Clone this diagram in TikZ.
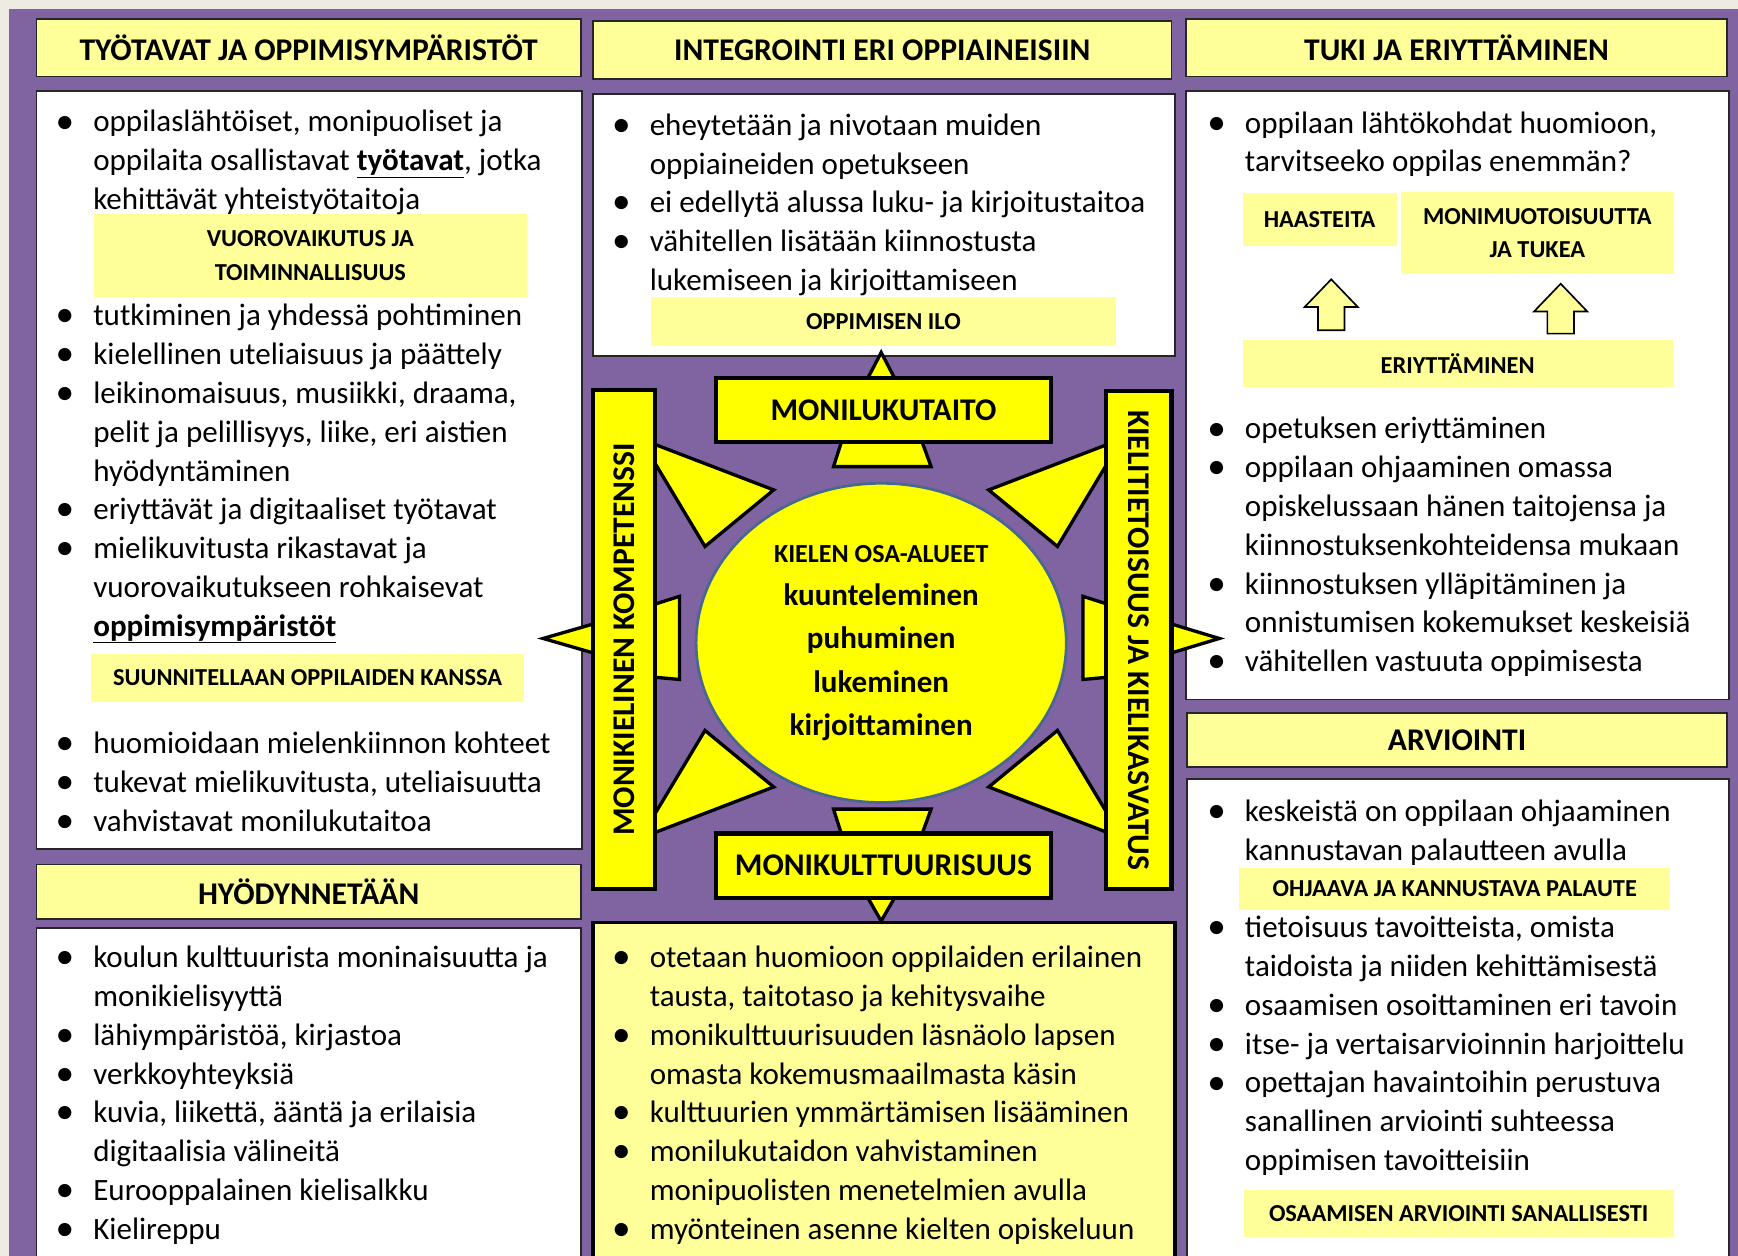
\documentclass[tikz,border=0pt]{standalone}
\usepackage{fontspec}
\setmainfont{Carlito}
\usetikzlibrary{shapes.geometric}
\definecolor{purp}{RGB}{128,100,162}
\definecolor{paleyel}{RGB}{255,255,153}
\definecolor{brightyel}{RGB}{255,255,0}
\definecolor{rimblue}{RGB}{72,104,146}
\definecolor{beige}{RGB}{238,235,226}
\newcommand{\bodyfont}{\fontsize{28}{35}\selectfont}
\newcommand{\tagfont}{\fontsize{22}{30}\selectfont\bfseries}
\newcommand{\bl}{\makebox[34pt][l]{\raisebox{-1pt}{\scalebox{1.2}{\textbullet}}}}
\newcommand{\cl}{\hspace*{34pt}}
\newcommand{\bullist}[1]{\begin{tabular}[t]{@{}l@{}}#1\end{tabular}}
\tikzset{
  headbox/.style={draw=black!85, line width=1.5pt, fill=paleyel, font=\fontsize{28.5}{30}\selectfont\bfseries},
  listbox/.style={draw=black!85, line width=1.5pt, fill=white},
  tagbox/.style={fill=paleyel, align=center, inner sep=0pt, font=\tagfont},
  hubbox/.style={draw=black, line width=4pt, fill=brightyel, font=\fontsize{28.5}{30}\selectfont\bfseries},
  hubtip/.style={draw=black, line width=3pt, fill=brightyel, line join=miter},
  listtext/.style={font=\bodyfont, inner sep=0pt, anchor=base west},
  liftarrow/.style={draw=black, line width=1.5pt, fill=paleyel}
}
\begin{document}
\begin{tikzpicture}[x=1pt, y=-1pt]
        \useasboundingbox (0,0) rectangle (1568,1133);
        \clip (0,0) rectangle (1568,1133);
        \fill[beige] (0,0) rectangle (1568,1133);
        \fill[purp] (8,8) rectangle (1568,1133);

        \node[headbox, minimum width=491pt, minimum height=52pt] (tyoHead) at (278.5,43) {TYÖTAVAT JA OPPIMISYMPÄRISTÖT};
        \node[headbox, minimum width=522pt, minimum height=52pt] (integHead) at (796,45) {INTEGROINTI ERI OPPIAINEISIIN};
        \node[headbox, minimum width=488pt, minimum height=52pt] (tukiHead) at (1314,43) {TUKI JA ERIYTTÄMINEN};
        \node[headbox, minimum width=491pt, minimum height=49pt] (hyodyHead) at (278.5,804.5) {HYÖDYNNETÄÄN};
        \node[headbox, minimum width=487pt, minimum height=49pt] (arvHead) at (1314.5,667.5) {ARVIOINTI};

        \node[listbox, minimum width=492pt, minimum height=684pt] (tyoBody) at (279,424) {};
        \node[listbox, minimum width=525pt, minimum height=236pt] (integBody) at (797.5,203) {};
        \node[listbox, minimum width=490pt, minimum height=549pt] (tukiBody) at (1315,356.5) {};
        \node[listbox, minimum width=491pt, minimum height=320pt] (hyodyBody) at (278.5,997) {};
        \node[listbox, minimum width=489pt, minimum height=450pt] (arvBody) at (1315.5,928) {};
        \node[draw=black, line width=3pt, fill=paleyel, minimum width=525pt, minimum height=320pt] (kulttBody) at (797.5,992) {};

        \node[tagbox, minimum width=390pt, minimum height=75pt] (vuoroTag) at (280,230.5) {VUOROVAIKUTUS JA\\TOIMINNALLISUUS};
        \node[tagbox, minimum width=391pt, minimum height=43pt] (suunTag) at (277.5,611.5) {SUUNNITELLAAN OPPILAIDEN KANSSA};
        \node[tagbox, minimum width=420pt, minimum height=44pt] (iloTag) at (797,290) {OPPIMISEN ILO};
        \node[tagbox, minimum width=139pt, minimum height=48pt] (haastTag) at (1190.5,198) {HAASTEITA};
        \node[tagbox, minimum width=246pt, minimum height=74pt] (moniTag) at (1387,210) {MONIMUOTOISUUTTA\\JA TUKEA};
        \node[tagbox, minimum width=388pt, minimum height=42pt] (eriyTag) at (1315,328) {ERIYTTÄMINEN};
        \node[tagbox, minimum width=389pt, minimum height=38pt] (palTag) at (1312.5,802) {OHJAAVA JA KANNUSTAVA PALAUTE};
        \node[tagbox, minimum width=388pt, minimum height=42pt] (sanTag) at (1316,1095) {OSAAMISEN ARVIOINTI SANALLISESTI};

        \node[listtext] (tyoA) at (50,119) {\bullist{
          \bl oppilaslähtöiset, monipuoliset ja\\
          \cl oppilaita osallistavat \underline{\textbf{työtavat}}, jotka\\
          \cl kehittävät yhteistyötaitoja}};
        \node[listtext] (tyoB) at (50,294) {\bullist{
          \bl tutkiminen ja yhdessä pohtiminen\\
          \bl kielellinen uteliaisuus ja päättely\\
          \bl leikinomaisuus, musiikki, draama,\\
          \cl pelit ja pelillisyys, liike, eri aistien\\
          \cl hyödyntäminen\\
          \bl eriyttävät ja digitaaliset työtavat\\
          \bl mielikuvitusta rikastavat ja\\
          \cl vuorovaikutukseen rohkaisevat\\
          \cl \underline{\textbf{oppimisympäristöt}}}};
        \node[listtext] (tyoC) at (50,680) {\bullist{
          \bl huomioidaan mielenkiinnon kohteet\\
          \bl tukevat mielikuvitusta, uteliaisuutta\\
          \bl vahvistavat monilukutaitoa}};

        \node[listtext] (hyodyList) at (50,873) {\bullist{
          \bl koulun kulttuurista moninaisuutta ja\\
          \cl monikielisyyttä\\
          \bl lähiympäristöä, kirjastoa\\
          \bl verkkoyhteyksiä\\
          \bl kuvia, liikettä, ääntä ja erilaisia\\
          \cl digitaalisia välineitä\\
          \bl Eurooppalainen kielisalkku\\
          \bl Kielireppu}};

        \node[listtext] (integList) at (552,122) {\bullist{
          \bl eheytetään ja nivotaan muiden\\
          \cl oppiaineiden opetukseen\\
          \bl ei edellytä alussa luku- ja kirjoitustaitoa\\
          \bl vähitellen lisätään kiinnostusta\\
          \cl lukemiseen ja kirjoittamiseen}};

        \node[listtext] (kulttList) at (552,873) {\bullist{
          \bl otetaan huomioon oppilaiden erilainen\\
          \cl tausta, taitotaso ja kehitysvaihe\\
          \bl monikulttuurisuuden läsnäolo lapsen\\
          \cl omasta kokemusmaailmasta käsin\\
          \bl kulttuurien ymmärtämisen lisääminen\\
          \bl monilukutaidon vahvistaminen\\
          \cl monipuolisten menetelmien avulla\\
          \bl myönteinen asenne kielten opiskeluun}};

        \node[listtext] (tukiA) at (1089,120) {\bullist{
          \bl oppilaan lähtökohdat huomioon,\\
          \cl tarvitseeko oppilas enemmän?}};
        \filldraw[liftarrow] (1189,298) -- (1189,277) -- (1177,277) -- (1201,252) -- (1225,277) -- (1213,277) -- (1213,298) -- cycle;
        \filldraw[liftarrow] (1396,301) -- (1396,281) -- (1384,281) -- (1408,256) -- (1432,281) -- (1420,281) -- (1420,301) -- cycle;
        \node[listtext] (tukiB) at (1089,396) {\bullist{
          \bl opetuksen eriyttäminen\\
          \bl oppilaan ohjaaminen omassa\\
          \cl opiskelussaan hänen taitojensa ja\\
          \cl kiinnostuksenkohteidensa mukaan\\
          \bl kiinnostuksen ylläpitäminen ja\\
          \cl onnistumisen kokemukset keskeisiä\\
          \bl vähitellen vastuuta oppimisesta}};

        \node[listtext] (arvA) at (1089,741) {\bullist{
          \bl keskeistä on oppilaan ohjaaminen\\
          \cl kannustavan palautteen avulla}};
        \node[listtext] (arvB) at (1089,846) {\bullist{
          \bl tietoisuus tavoitteista, omista\\
          \cl taidoista ja niiden kehittämisestä\\
          \bl osaamisen osoittaminen eri tavoin\\
          \bl itse- ja vertaisarvioinnin harjoittelu\\
          \bl opettajan havaintoihin perustuva\\
          \cl sanallinen arviointi suhteessa\\
          \cl oppimisen tavoitteisiin}};

        \filldraw[hubtip] (783,341) -- (795,318) -- (807,341) -- cycle;
        \filldraw[hubtip] (783,810) -- (795,831) -- (807,810) -- cycle;
        \filldraw[hubtip] (759,399) -- (832,399) -- (840,421) -- (752,421) -- cycle;
        \filldraw[hubtip] (752,730) -- (840,730) -- (832,752) -- (759,752) -- cycle;
        \filldraw[hubtip] (535,563) -- (490,576) -- (535,589) -- cycle;
        \filldraw[hubtip] (1057,563) -- (1100,576) -- (1057,589) -- cycle;
        \filldraw[hubtip] (591,545) -- (613,538) -- (613,613) -- (591,611) -- cycle;
        \filldraw[hubtip] (999,545) -- (977,538) -- (977,613) -- (999,611) -- cycle;
        \filldraw[hubtip] (591,401) -- (698,442) -- (636,493) -- (591,418) -- cycle;
        \filldraw[hubtip] (999,401) -- (892,442) -- (954,493) -- (999,418) -- cycle;
        \filldraw[hubtip] (591,751) -- (698,710) -- (636,659) -- (591,734) -- cycle;
        \filldraw[hubtip] (999,751) -- (892,710) -- (954,659) -- (999,734) -- cycle;

        \node[hubbox, minimum width=302pt, minimum height=58pt] (moniluku) at (797,370) {MONILUKUTAITO};
        \node[hubbox, minimum width=302pt, minimum height=58pt] (monikult) at (797,781) {MONIKULTTUURISUUS};
        \node[hubbox, rotate=90, minimum width=450pt, minimum height=56pt] (monikiel) at (563,577) {MONIKIELINEN KOMPETENSSI};
        \node[hubbox, rotate=-90, minimum width=449pt, minimum height=59pt] (kielitiet) at (1027.5,577.5) {KIELITIETOISUUS JA KIELIKASVATUS};

        \node[ellipse, draw=rimblue, line width=2.5pt, fill=brightyel, minimum width=334pt, minimum height=288pt,
              align=center, font=\fontsize{28}{39}\selectfont\bfseries] (osaAlueet) at (795,580)
              {{\fontsize{23.5}{39}\selectfont KIELEN OSA-ALUEET}\\kuunteleminen\\puhuminen\\lukeminen\\kirjoittaminen};
    \end{tikzpicture}
\end{document}
